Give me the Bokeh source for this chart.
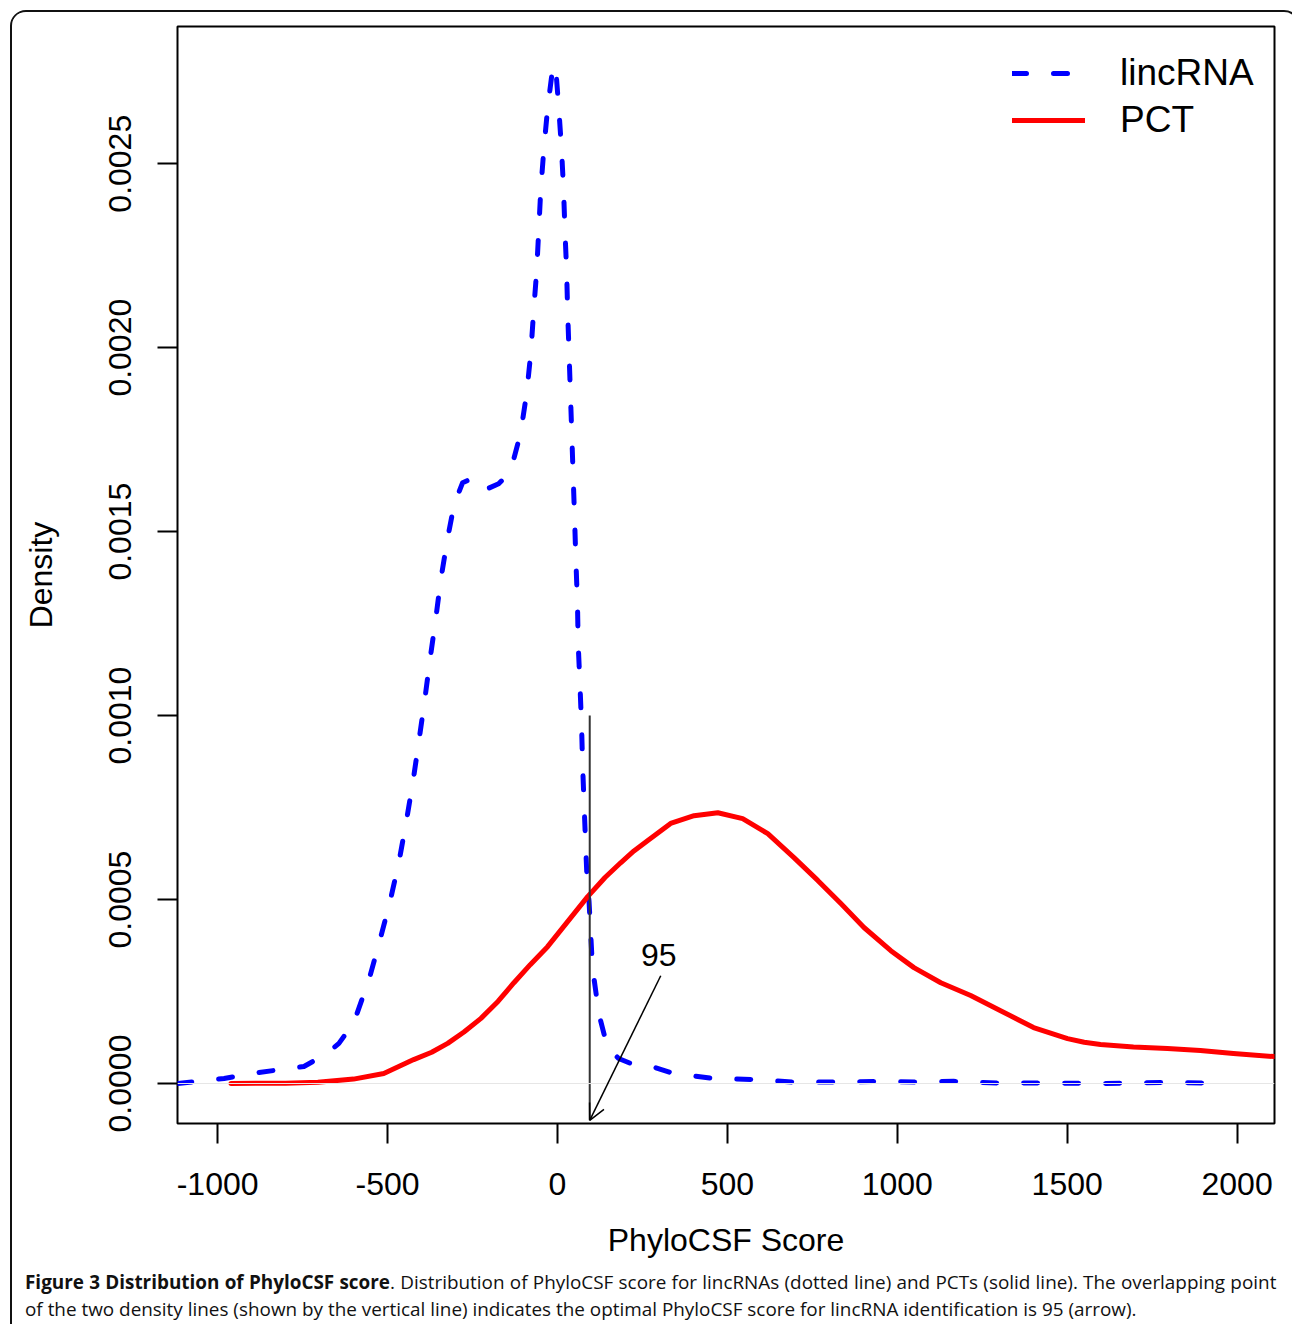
from bokeh.plotting import figure
from bokeh.models import (Range1d, FixedTicker, Span, Segment, ColumnDataSource, Arrow, OpenHead,
                          Label, Legend, LegendItem, Div)
from bokeh.layouts import column
from bokeh.embed import file_html
from bokeh.resources import INLINE

# ---------------- data ----------------
lincRNA_x = [-1117, -981, -902, -790, -746, -681, -643, -599, -554, -522, -492, -466, -444, -424,
             -407, -390, -375, -358, -343, -324, -304, -279, -246, -205, -173, -155, -132, -108,
             -90, -78, -70, -61, -55, -49, -40, -29, -14, -10, -5, 4, 12, 18, 22, 27, 30, 34, 38,
             42, 46, 50, 54, 59, 61, 66, 71, 74, 78, 83, 88, 93, 103, 122, 147, 180, 216, 260,
             342, 460, 569, 695, 813, 930, 1060, 1166, 1295, 1451, 1598, 1775, 1928]
lincRNA_y = [0.0, 0.0000136, 0.0000272, 0.0000408, 0.0000462, 0.0000800, 0.000109, 0.000166,
             0.000284, 0.000391, 0.000497, 0.000604, 0.000716, 0.000827, 0.000935, 0.001046,
             0.001152, 0.001264, 0.001371, 0.001478, 0.001574, 0.001633, 0.001647, 0.001617,
             0.001630, 0.001647, 0.001685, 0.001769, 0.00188, 0.00199, 0.0021, 0.00221, 0.00232,
             0.00243, 0.00254, 0.00265, 0.00276, 0.002768, 0.00276, 0.00265, 0.00254, 0.00243,
             0.00232, 0.00221, 0.0021, 0.00199, 0.00188, 0.00177, 0.001658, 0.001549, 0.001429,
             0.001303, 0.001196, 0.00109, 0.000973, 0.000867, 0.000769, 0.000647, 0.000536,
             0.000495, 0.000316, 0.000189, 0.0000986, 0.000068, 0.0000543, 0.0000516, 0.0000272,
             0.0000136, 0.0000109, 0.000004, 0.000004, 0.0000054, 0.000004, 0.000006, 0.0000014,
             0.000001, 0.0, 0.000003, 0.000001]

pct_x = [-961, -800, -705, -600, -511, -423, -370, -323, -275, -225, -175, -128, -80, -29, 30,
         89, 140, 186, 225, 265, 333, 402, 472, 545, 619, 696, 766, 834, 902, 981, 1049, 1128,
         1216, 1304, 1401, 1501, 1550, 1598, 1695, 1795, 1892, 1989, 2113]
pct_y = [0.0, 0.000001, 0.0000035, 0.000012, 0.000027, 0.000065, 0.000085, 0.000109, 0.000140,
         0.000177, 0.000223, 0.000274, 0.000323, 0.000372, 0.000440, 0.000508, 0.000560, 0.0006,
         0.000632, 0.00066, 0.000707, 0.000728, 0.000736, 0.00072, 0.000679, 0.000614, 0.000552,
         0.000489, 0.000424, 0.000361, 0.000315, 0.000274, 0.000239, 0.000198, 0.000152,
         0.000122, 0.000112, 0.000106, 0.0000995, 0.000095, 0.00009, 0.0000815, 0.000073]

x_ticks = [-1000, -500, 0, 500, 1000, 1500, 2000]
x_tick_labels = ["-1000", "-500", "0", "500", "1000", "1500", "2000"]
y_ticks = [0.0, 0.0005, 0.001, 0.0015, 0.002, 0.0025]
y_tick_labels = ["0.0000", "0.0005", "0.0010", "0.0015", "0.0020", "0.0025"]

optimal_score = 95
vline_top = 0.001
vline_bottom = -0.0001
arrow_start = (304, 0.000293)
label_pos = (298, 0.000348)

x_label = "PhyloCSF Score"
y_label = "Density"
series_names = ["lincRNA", "PCT"]

FONT = "Liberation Sans"

p = figure(width=1276, height=1252, output_backend="svg", toolbar_location=None,
           x_range=Range1d(-1118, 2110), y_range=Range1d(-0.0001087, 0.002873),
           min_border_left=165, min_border_right=14, min_border_top=14, min_border_bottom=141)
p.background_fill_color = "white"
p.border_fill_color = "white"
p.outline_line_color = "black"
p.outline_line_width = 2
p.grid.visible = False

for ax in (p.xaxis[0], p.yaxis[0]):
    ax.axis_line_color = None
    ax.major_tick_out = 20
    ax.major_tick_in = 0
    ax.major_tick_line_width = 2
    ax.major_tick_line_color = "black"
    ax.minor_tick_line_color = None
    ax.major_label_text_font = FONT
    ax.major_label_text_font_size = "32px"
    ax.major_label_text_color = "black"
    ax.axis_label_text_font = FONT
    ax.axis_label_text_font_size = "32px"
    ax.axis_label_text_font_style = "normal"
    ax.axis_label_text_color = "black"

p.xaxis.ticker = FixedTicker(ticks=x_ticks)
p.xaxis.major_label_overrides = {t: l for t, l in zip(x_ticks, x_tick_labels)}
p.xaxis.major_label_standoff = 29
p.xaxis.axis_label = x_label
p.xaxis.axis_label_standoff = 24

p.yaxis.ticker = FixedTicker(ticks=y_ticks)
p.yaxis.major_label_overrides = {t: l for t, l in zip(y_ticks, y_tick_labels)}
p.yaxis.major_label_orientation = "vertical"
p.yaxis.major_label_standoff = 26
p.yaxis.axis_label = y_label
p.yaxis.axis_label_standoff = 48

p.add_layout(Span(location=0, dimension="width", line_color="#e6e6e6", line_width=1))

blue = p.line(lincRNA_x, lincRNA_y, line_color="#0000ff", line_width=5, line_dash="14 27",
              line_cap="round", line_join="round")
red = p.line(pct_x, pct_y, line_color="#ff0000", line_width=5, line_cap="round",
             line_join="round")

vsrc = ColumnDataSource(dict(x0=[optimal_score], y0=[vline_top], x1=[optimal_score], y1=[vline_bottom]))
p.add_glyph(vsrc, Segment(x0="x0", y0="y0", x1="x1", y1="y1", line_color="#333333", line_width=2))

p.add_layout(Arrow(end=OpenHead(size=16, line_width=1.5, line_color="black"),
                   x_start=arrow_start[0], y_start=arrow_start[1],
                   x_end=optimal_score, y_end=vline_bottom,
                   line_color="black", line_width=1.5))
p.add_layout(Label(x=label_pos[0], y=label_pos[1], text=str(optimal_score), text_font=FONT,
                   text_font_size="32px", text_align="center", text_baseline="middle",
                   text_color="black"))

legend = Legend(items=[LegendItem(label=series_names[0], renderers=[blue]),
                       LegendItem(label=series_names[1], renderers=[red])],
                location=(835, 982), glyph_width=73, glyph_height=42, label_height=42,
                label_standoff=35, spacing=5, padding=0, margin=0,
                label_text_font=FONT, label_text_font_size="37px", label_text_color="black",
                border_line_alpha=0, background_fill_alpha=0)
p.add_layout(legend)

caption_html = (
    '<div style="padding-left:8px; font-family:\'Open Sans\'; font-size:18.9px; '
    'line-height:27px; color:#111;">'
    '<div style="white-space:nowrap; word-spacing:0.35px;">'
    '<b>Figure 3 Distribution of PhyloCSF score</b>. Distribution of PhyloCSF score for lincRNAs '
    '(dotted line) and PCTs (solid line). The overlapping point</div>'
    '<div style="white-space:nowrap;">of the two density lines (shown by the vertical line) indicates the optimal '
    'PhyloCSF score for lincRNA identification is 95 (arrow).</div></div>'
)
caption = Div(text=caption_html, width=1276, height=64)

layout = column(p, caption, styles={"margin-left": "10px", "margin-top": "10px",
                                    "border": "2px solid #111", "border-radius": "16px",
                                    "overflow": "hidden", "background": "white"})

open("out.html", "w").write(file_html(layout, INLINE))
